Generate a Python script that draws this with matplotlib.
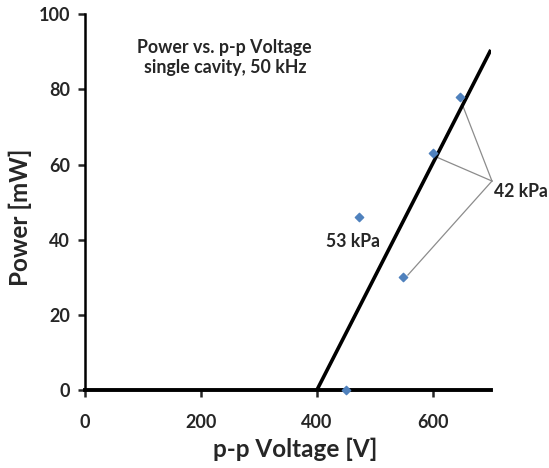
import matplotlib
matplotlib.use("Agg")
import matplotlib.pyplot as plt

# data
voltage = [451, 472, 549, 601, 647]
power = [0, 46, 30, 63, 78]
fit_x = [400, 700]
fit_y = [0, 90.5]
x_ticks = [0, 200, 400, 600]
y_ticks = [0, 20, 40, 60, 80, 100]
label_42 = (702, 55.6)
targets_42 = [(652, 75.5), (606, 62), (557, 30.6)]

plt.rcParams['font.family'] = ['Lato', 'DejaVu Sans']

fig = plt.figure(figsize=(5.49, 4.68), dpi=100)
ax = fig.add_axes([0.155, 0.1667, 0.739, 0.803])
ax.set_xlim(0, 700)
ax.set_ylim(0, 100)

ax.plot(fit_x, fit_y, color='black', lw=2.6, solid_capstyle='butt', zorder=3)
ax.scatter(voltage, power, marker='D', s=18, color='#4F81BD', zorder=4, clip_on=False)

for tx, ty in targets_42:
    ax.plot([label_42[0], tx], [label_42[1], ty], color='#8c8c8c', lw=0.9, zorder=2, clip_on=False)

ax.text(706, 52.7, '42 kPa', fontsize=12.7, fontweight='bold', color='#262626', ha='left', va='center')
ax.text(463, 39.4, '53 kPa', fontsize=12.7, fontweight='bold', color='#262626', ha='center', va='center')
ax.text(241, 88.4, 'Power vs. p-p Voltage\nsingle cavity, 50 kHz', fontsize=12.8, fontweight='bold',
        color='#262626', ha='center', va='center', linespacing=1.2, transform=ax.transData)

for s in ['top', 'right']:
    ax.spines[s].set_visible(False)
ax.spines['left'].set_linewidth(1.8)
ax.spines['bottom'].set_linewidth(2.8)
ax.set_xticks(x_ticks)
ax.set_yticks(y_ticks)
ax.tick_params(axis='both', direction='out', length=5, width=1.8, labelsize=13, colors='#262626', pad=6)
ax.tick_params(axis='x', pad=12)
for lab in ax.get_xticklabels() + ax.get_yticklabels():
    lab.set_fontweight('bold')

ax.set_xlabel('p-p Voltage [V]', fontsize=17.5, fontweight='bold', color='#262626')
ax.set_ylabel('Power [mW]', fontsize=17.5, fontweight='bold', color='#262626')
ax.xaxis.label.set_va('center')
ax.yaxis.label.set_va('center')
ax.xaxis.set_label_coords(0.517, -0.157)
ax.yaxis.set_label_coords(-0.16, 0.459)

fig.savefig('out.png', dpi=100)
